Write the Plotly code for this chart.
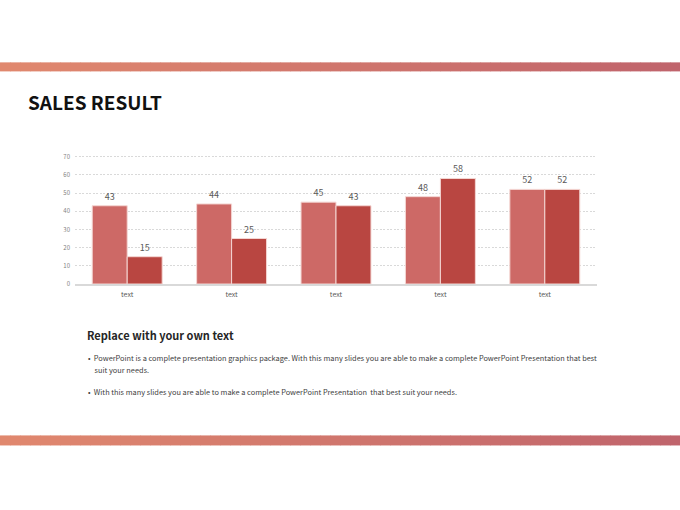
import plotly.graph_objects as go

categories = ['text', 'text', 'text', 'text', 'text']
series_a = [43, 44, 45, 48, 52]
series_b = [15, 25, 43, 58, 52]
y_ticks = [0, 10, 20, 30, 40, 50, 60, 70]

W, H = 680, 510
Y_MAX = 72
L, R, B = 75, 597, 284
T = B - Y_MAX * 127 / 70   # keep the 70 line at y=157 px


def px(x):
    return (x - L) / (R - L)


def py(y):
    return (B - y) / (B - T)


def mix(c1, c2, t):
    return 'rgb(%d,%d,%d)' % tuple(round(a + (b - a) * t) for a, b in zip(c1, c2))


fig = go.Figure()
fig.add_trace(go.Bar(x=list(range(5)), y=series_a, marker=dict(color='#CD6966', line=dict(color='#F4D6D3', width=1)),
                     text=series_a, textposition='outside', cliponaxis=False,
                     textfont=dict(size=9, color='#595959')))
fig.add_trace(go.Bar(x=list(range(5)), y=series_b, marker=dict(color='#B94641', line=dict(color='#F4D6D3', width=1)),
                     text=series_b, textposition='outside', cliponaxis=False,
                     textfont=dict(size=9, color='#595959')))

# gradient bands top and bottom
shapes = []
left_c, right_c = (224, 136, 110), (192, 100, 108)
n = 68
for i in range(n):
    x0 = i * W / n
    x1 = (i + 1) * W / n + 0.5
    col = mix(left_c, right_c, i / (n - 1))
    for y0, y1 in [(63, 72), (435, 445)]:
        shapes.append(dict(type='rect', xref='paper', yref='paper', x0=px(x0), x1=px(x1),
                           y0=py(y1), y1=py(y0), fillcolor=col, line=dict(width=0), layer='below'))

annotations = [
    dict(text='<b>SALES RESULT</b>', x=px(26), y=py(102), xref='paper', yref='paper',
         xanchor='left', yanchor='middle', showarrow=False,
         font=dict(family='Noto Sans CJK KR', size=19, color='#111111')),
    dict(text='<b>Replace with your own text</b>', x=px(85), y=py(335), xref='paper', yref='paper',
         xanchor='left', yanchor='middle', showarrow=False,
         font=dict(family='Noto Sans CJK KR', size=11, color='#262626')),
]
bullets = [
    (357, '•  PowerPoint is a complete presentation graphics package. With this many slides you are able to make a complete PowerPoint Presentation that best'),
    (369, '    suit your needs.'),
    (391, '•  With this many slides you are able to make a complete PowerPoint Presentation  that best suit your needs.'),
]
for yy, txt in bullets:
    annotations.append(dict(text=txt, x=px(86), y=py(yy), xref='paper', yref='paper',
                            xanchor='left', yanchor='middle', showarrow=False,
                            font=dict(family='Noto Sans CJK KR', size=7.4, color='#404040')))

fig.update_layout(
    width=W, height=H, barmode='group', bargap=0.33, bargroupgap=0,
    margin=dict(l=L, r=W - R, t=T, b=H - B),
    paper_bgcolor='white', plot_bgcolor='white', showlegend=False,
    shapes=shapes, annotations=annotations,
    font=dict(family='Noto Sans CJK KR'),
    xaxis=dict(tickmode='array', tickvals=list(range(5)), ticktext=categories,
               range=[-0.5, 4.5], showgrid=False, showline=True, linecolor='#D9D9D9', linewidth=2,
               ticks='', tickfont=dict(size=7, color='#595959'), zeroline=False, ticklabelstandoff=3),
    yaxis=dict(range=[0, Y_MAX], tickvals=y_ticks, showgrid=True, gridcolor='#D9D9D9', griddash='2px,1.5px',
               gridwidth=0.7, showline=False, zeroline=False, ticks='',
               tickfont=dict(size=6, color='#7F7F7F'), ticklabelstandoff=4),
)

# drop the default page margin so the slide sits at 0,0
fig.write_html('out.html', config={'displayModeBar': False},
               post_script="document.body.style.margin='0';")
